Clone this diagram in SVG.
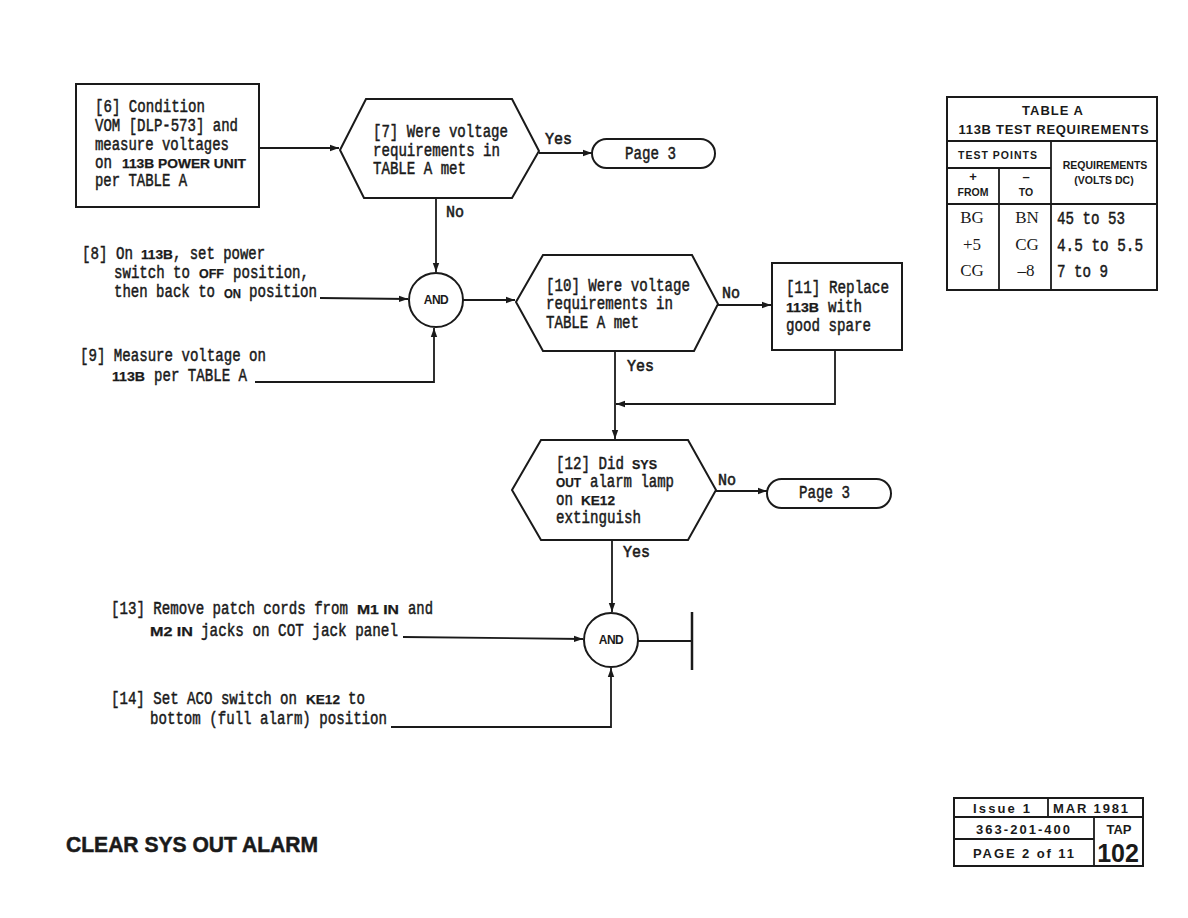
<svg xmlns="http://www.w3.org/2000/svg" width="1188" height="918" viewBox="0 0 1188 918">
<style>
.bg{fill:#ffffff}
.shape{fill:#ffffff;stroke:#1a1a1a;stroke-width:2}
.ln{fill:none;stroke:#1a1a1a;stroke-width:1.8}
.arr{fill:none;stroke:#1a1a1a;stroke-width:1.8;marker-end:url(#ah)}
.t{font-family:"Liberation Mono",monospace;font-size:14.1px;fill:#1a1a1a;stroke:#1a1a1a;stroke-width:0.4}
.b{font-family:"Liberation Sans",sans-serif;font-weight:bold;font-size:12.5px;fill:#1a1a1a;stroke:#1a1a1a;stroke-width:0.25}
.lb{font-family:"Liberation Mono",monospace;font-size:16.5px;fill:#1a1a1a;stroke:#1a1a1a;stroke-width:0.6}
.sv{font-family:"Liberation Serif",serif;font-size:17px;fill:#1a1a1a}
.hd{font-family:"Liberation Sans",sans-serif;font-weight:bold;fill:#1a1a1a}
.and{font-family:"Liberation Sans",sans-serif;font-weight:bold;font-size:12px;fill:#1a1a1a;text-anchor:middle;letter-spacing:-0.5px}
</style>
<defs>
<marker id="ah" markerWidth="10" markerHeight="8" refX="9" refY="4" orient="auto" markerUnits="userSpaceOnUse">
<path d="M0,0.8 L9,4 L0,7.2 Z" fill="#1a1a1a"/>
</marker>
</defs>
<rect class="bg" x="0" y="0" width="1188" height="918"/>

<g id="connectors">
<line class="arr" x1="259" y1="148" x2="339" y2="148"/>
<line class="arr" x1="539" y1="153" x2="592" y2="153"/>
<line class="arr" x1="436" y1="198" x2="436" y2="272"/>
<polyline class="arr" points="320,298 408,299"/>
<polyline class="arr" points="255,382 434,382 434,328"/>
<line class="arr" x1="463" y1="300" x2="515" y2="300"/>
<line class="arr" x1="718" y1="305" x2="771" y2="305"/>
<line class="arr" x1="615" y1="351" x2="615" y2="439"/>
<polyline class="arr" points="835,349 835,404 616,404"/>
<line class="arr" x1="716" y1="491" x2="767" y2="491"/>
<line class="arr" x1="612" y1="540" x2="612" y2="612"/>
<polyline class="arr" points="403,637 583,639"/>
<polyline class="arr" points="391,727 611,727 611,668"/>
<line class="ln" x1="638" y1="641" x2="692" y2="641"/>
<line class="ln" x1="692" y1="612" x2="692" y2="670" style="stroke-width:2.5"/>
<text class="lb" x="545" y="144" textLength="27" lengthAdjust="spacingAndGlyphs">Yes</text>
<text class="lb" x="446" y="217" textLength="18" lengthAdjust="spacingAndGlyphs">No</text>
<text class="lb" x="722" y="298" textLength="18" lengthAdjust="spacingAndGlyphs">No</text>
<text class="lb" x="627" y="371" textLength="27" lengthAdjust="spacingAndGlyphs">Yes</text>
<text class="lb" x="718" y="485" textLength="18" lengthAdjust="spacingAndGlyphs">No</text>
<text class="lb" x="623" y="557" textLength="27" lengthAdjust="spacingAndGlyphs">Yes</text>
</g>

<g id="n6">
<rect class="shape" x="76" y="84" width="183" height="123"/>
<text class="t" transform="translate(95,112) scale(1,1.25)" textLength="110" lengthAdjust="spacingAndGlyphs">[6] Condition</text>
<text class="t" transform="translate(95,131) scale(1,1.25)" textLength="143" lengthAdjust="spacingAndGlyphs">VOM [DLP-573] and</text>
<text class="t" transform="translate(95,150) scale(1,1.25)" textLength="134" lengthAdjust="spacingAndGlyphs">measure voltages</text>
<text class="t" transform="translate(95,168) scale(1,1.25)" textLength="17" lengthAdjust="spacingAndGlyphs">on</text>
<text class="b" x="122" y="168" textLength="124" lengthAdjust="spacingAndGlyphs">113B POWER UNIT</text>
<text class="t" transform="translate(95,186) scale(1,1.25)" textLength="92" lengthAdjust="spacingAndGlyphs">per TABLE A</text>
</g>

<g id="n7">
<polygon class="shape" points="340,150 366,99 512,99 539,151 512,198 364,198"/>
<text class="t" transform="translate(373,137) scale(1,1.25)" textLength="135" lengthAdjust="spacingAndGlyphs">[7] Were voltage</text>
<text class="t" transform="translate(373,156) scale(1,1.25)" textLength="127" lengthAdjust="spacingAndGlyphs">requirements in</text>
<text class="t" transform="translate(373,174) scale(1,1.25)" textLength="93" lengthAdjust="spacingAndGlyphs">TABLE A met</text>
</g>

<g id="p3a">
<rect class="shape" x="592" y="139" width="123" height="29" rx="14.5"/>
<text class="t" transform="translate(625,159) scale(1,1.25)" textLength="51" lengthAdjust="spacingAndGlyphs">Page 3</text>
</g>

<g id="n8">
<text class="t" transform="translate(82,259) scale(1,1.25)" textLength="51" lengthAdjust="spacingAndGlyphs">[8] On</text>
<text class="b" x="141" y="259" textLength="32" lengthAdjust="spacingAndGlyphs">113B</text>
<text class="t" transform="translate(173,259) scale(1,1.25)" textLength="92" lengthAdjust="spacingAndGlyphs">, set power</text>
<text class="t" transform="translate(114,278) scale(1,1.25)" textLength="76" lengthAdjust="spacingAndGlyphs">switch to</text>
<text class="b" x="199" y="278" textLength="25" lengthAdjust="spacingAndGlyphs">OFF</text>
<text class="t" transform="translate(233,278) scale(1,1.25)" textLength="76" lengthAdjust="spacingAndGlyphs">position,</text>
<text class="t" transform="translate(114,297) scale(1,1.25)" textLength="101" lengthAdjust="spacingAndGlyphs">then back to</text>
<text class="b" x="224" y="297.5" textLength="17" lengthAdjust="spacingAndGlyphs">ON</text>
<text class="t" transform="translate(249,297) scale(1,1.25)" textLength="68" lengthAdjust="spacingAndGlyphs">position</text>
</g>

<g id="n9">
<text class="t" transform="translate(80,361) scale(1,1.25)" textLength="186" lengthAdjust="spacingAndGlyphs">[9] Measure voltage on</text>
<text class="b" x="112" y="381" textLength="33" lengthAdjust="spacingAndGlyphs">113B</text>
<text class="t" transform="translate(154,381) scale(1,1.25)" textLength="93" lengthAdjust="spacingAndGlyphs">per TABLE A</text>
</g>

<g id="and1">
<circle class="shape" cx="436" cy="300" r="27"/>
<text class="and" x="436" y="304">AND</text>
</g>

<g id="n10">
<polygon class="shape" points="516,302 543,255 692,255 718,304 694,351 543,351"/>
<text class="t" transform="translate(546,291) scale(1,1.25)" textLength="144" lengthAdjust="spacingAndGlyphs">[10] Were voltage</text>
<text class="t" transform="translate(546,309) scale(1,1.25)" textLength="127" lengthAdjust="spacingAndGlyphs">requirements in</text>
<text class="t" transform="translate(546,328) scale(1,1.25)" textLength="93" lengthAdjust="spacingAndGlyphs">TABLE A met</text>
</g>

<g id="n11">
<rect class="shape" x="772" y="263" width="130" height="87"/>
<text class="t" transform="translate(786,293) scale(1,1.25)" textLength="103" lengthAdjust="spacingAndGlyphs">[11] Replace</text>
<text class="b" x="786" y="312" textLength="33" lengthAdjust="spacingAndGlyphs">113B</text>
<text class="t" transform="translate(828,312) scale(1,1.25)" textLength="34" lengthAdjust="spacingAndGlyphs">with</text>
<text class="t" transform="translate(786,331) scale(1,1.25)" textLength="85" lengthAdjust="spacingAndGlyphs">good spare</text>
</g>

<g id="n12">
<polygon class="shape" points="512,490 541,440 688,440 716,490 688,540 541,540"/>
<text class="t" transform="translate(556,469) scale(1,1.25)" textLength="68" lengthAdjust="spacingAndGlyphs">[12] Did</text>
<text class="b" x="632" y="469" textLength="25" lengthAdjust="spacingAndGlyphs">SYS</text>
<text class="b" x="556" y="487" textLength="25" lengthAdjust="spacingAndGlyphs">OUT</text>
<text class="t" transform="translate(590,487) scale(1,1.25)" textLength="84" lengthAdjust="spacingAndGlyphs">alarm lamp</text>
<text class="t" transform="translate(556,505) scale(1,1.25)" textLength="17" lengthAdjust="spacingAndGlyphs">on</text>
<text class="b" x="581" y="505" textLength="34" lengthAdjust="spacingAndGlyphs">KE12</text>
<text class="t" transform="translate(556,523) scale(1,1.25)" textLength="85" lengthAdjust="spacingAndGlyphs">extinguish</text>
</g>

<g id="p3b">
<rect class="shape" x="767" y="479" width="124" height="29" rx="14.5"/>
<text class="t" transform="translate(799,498) scale(1,1.25)" textLength="51" lengthAdjust="spacingAndGlyphs">Page 3</text>
</g>

<g id="n13">
<text class="t" transform="translate(111,614) scale(1,1.25)" textLength="237" lengthAdjust="spacingAndGlyphs">[13] Remove patch cords from</text>
<text class="b" x="357" y="614" textLength="42" lengthAdjust="spacingAndGlyphs">M1 IN</text>
<text class="t" transform="translate(408,614) scale(1,1.25)" textLength="25" lengthAdjust="spacingAndGlyphs">and</text>
<text class="b" x="150" y="636" textLength="43" lengthAdjust="spacingAndGlyphs">M2 IN</text>
<text class="t" transform="translate(201,636) scale(1,1.25)" textLength="197" lengthAdjust="spacingAndGlyphs">jacks on COT jack panel</text>
</g>

<g id="n14">
<text class="t" transform="translate(111,704) scale(1,1.25)" textLength="186" lengthAdjust="spacingAndGlyphs">[14] Set ACO switch on</text>
<text class="b" x="306" y="704" textLength="34" lengthAdjust="spacingAndGlyphs">KE12</text>
<text class="t" transform="translate(348,704) scale(1,1.25)" textLength="17" lengthAdjust="spacingAndGlyphs">to</text>
<text class="t" transform="translate(150,724) scale(1,1.25)" textLength="237" lengthAdjust="spacingAndGlyphs">bottom (full alarm) position</text>
</g>

<g id="and2">
<circle class="shape" cx="611" cy="640" r="27"/>
<text class="and" x="611" y="644">AND</text>
</g>

<g id="tableA">
<rect class="shape" x="947" y="97" width="210" height="193"/>
<line class="ln" x1="947" y1="141" x2="1157" y2="141"/>
<line class="ln" x1="947" y1="168" x2="1051" y2="168"/>
<line class="ln" x1="947" y1="204" x2="1157" y2="204"/>
<line class="ln" x1="999" y1="168" x2="999" y2="290"/>
<line class="ln" x1="1051" y1="141" x2="1051" y2="290"/>
<text class="hd" x="1053" y="115" font-size="13" letter-spacing="1" text-anchor="middle">TABLE A</text>
<text class="hd" x="1054" y="134" font-size="13" letter-spacing="0.7" text-anchor="middle">113B TEST REQUIREMENTS</text>
<text class="hd" x="998" y="159" font-size="10.5" letter-spacing="1" text-anchor="middle">TEST POINTS</text>
<text class="hd" x="1105" y="169" font-size="10.5" text-anchor="middle">REQUIREMENTS</text>
<text class="hd" x="1104" y="184" font-size="10.5" text-anchor="middle">(VOLTS DC)</text>
<text class="hd" x="973" y="181" font-size="13" font-weight="normal" text-anchor="middle">+</text>
<text class="hd" x="973" y="196" font-size="10.5" text-anchor="middle">FROM</text>
<text class="hd" x="1026" y="181" font-size="13" font-weight="normal" text-anchor="middle">–</text>
<text class="hd" x="1026" y="196" font-size="10.5" text-anchor="middle">TO</text>
<text class="sv" x="972" y="223" text-anchor="middle">BG</text>
<text class="sv" x="1027" y="223" text-anchor="middle">BN</text>
<text class="t" transform="translate(1057,224) scale(1,1.25)" textLength="68" lengthAdjust="spacingAndGlyphs">45 to 53</text>
<text class="sv" x="972" y="250" text-anchor="middle">+5</text>
<text class="sv" x="1027" y="250" text-anchor="middle">CG</text>
<text class="t" transform="translate(1057,251) scale(1,1.25)" textLength="86" lengthAdjust="spacingAndGlyphs">4.5 to 5.5</text>
<text class="sv" x="972" y="276" text-anchor="middle">CG</text>
<text class="sv" x="1026" y="276" text-anchor="middle">–8</text>
<text class="t" transform="translate(1057,277) scale(1,1.25)" textLength="51" lengthAdjust="spacingAndGlyphs">7 to 9</text>
</g>

<g id="footer">
<rect class="shape" x="954" y="798" width="189" height="68"/>
<line class="ln" x1="954" y1="817" x2="1143" y2="817"/>
<line class="ln" x1="954" y1="839" x2="1094" y2="839"/>
<line class="ln" x1="1048" y1="798" x2="1048" y2="817"/>
<line class="ln" x1="1094" y1="817" x2="1094" y2="866"/>
<text class="hd" x="973" y="813" font-size="13" textLength="57" lengthAdjust="spacing">Issue 1</text>
<text class="hd" x="1053" y="813" font-size="13" textLength="75" lengthAdjust="spacing">MAR 1981</text>
<text class="hd" x="976" y="834" font-size="13" textLength="94" lengthAdjust="spacing">363-201-400</text>
<text class="hd" x="1119" y="834" font-size="13" text-anchor="middle">TAP</text>
<text class="hd" x="973" y="858" font-size="13" textLength="101" lengthAdjust="spacing">PAGE 2 of 11</text>
<text class="hd" x="1118" y="862" font-size="25" text-anchor="middle">102</text>
<text class="hd" x="66" y="852" font-size="22" stroke="#1a1a1a" stroke-width="0.5" textLength="252" lengthAdjust="spacingAndGlyphs">CLEAR SYS OUT ALARM</text>
</g>
</svg>
